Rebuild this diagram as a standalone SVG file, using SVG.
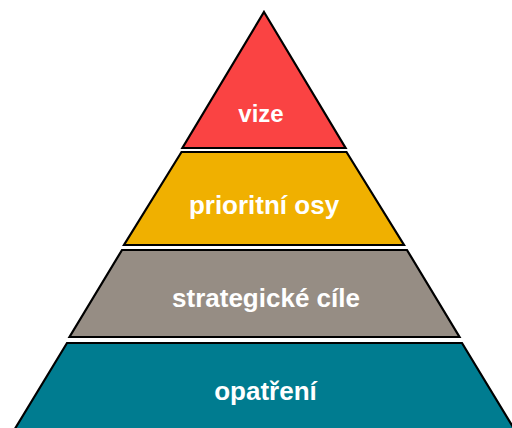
<svg xmlns="http://www.w3.org/2000/svg" width="512" height="428" viewBox="0 0 512 428">
<style>
.l{stroke:#000;stroke-width:2.2;stroke-linejoin:miter}
.t{font-family:"Liberation Sans",Arial,sans-serif;font-weight:bold;fill:#fff;text-anchor:middle}
</style>
<rect width="512" height="428" fill="#fff"/>
<g id="vize">
<polygon class="l" points="264,12 345.6,148 182.4,148" fill="#FA4343"/>
<text class="t" x="261" y="122" font-size="24">vize</text>
</g>
<g id="prioritni-osy">
<polygon class="l" points="181.5,152 346.5,152 404,245 124,245" fill="#F0B000"/>
<text class="t" x="264" y="214" font-size="26">prioritní osy</text>
</g>
<g id="strategicke-cile">
<polygon class="l" points="122,250 407,250 459.5,337 69.5,337" fill="#968D84"/>
<text class="t" x="266" y="307" font-size="26">strategické cíle</text>
</g>
<g id="opatreni">
<polygon class="l" points="67,343 462,343 516,432 13,432" fill="#007C90"/>
<text class="t" x="265.5" y="400" font-size="26">opatření</text>
</g>
<g id="connectors"></g>
</svg>
